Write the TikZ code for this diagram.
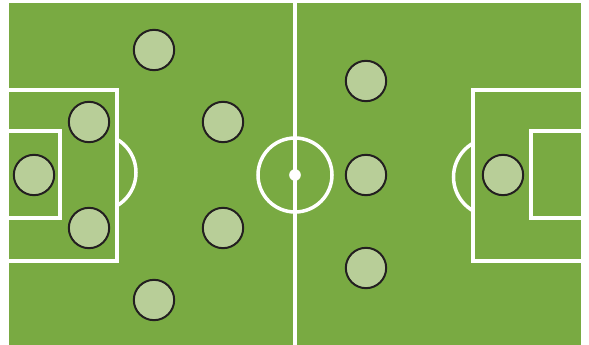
\documentclass[tikz,border=0pt]{standalone}
\usepackage{tikz}
\usetikzlibrary{positioning}
\definecolor{cPitch} {RGB}{121,170,66}
\definecolor{cPlyr}  {RGB}{184,206,152}
\definecolor{cEdge}  {RGB}{35,31,32}
\tikzset{
  pitch/.style={fill=cPitch,draw=none},
  lines/.style={draw=white,line width=3pt}, % pitch markings
  plyr/.style={circle,draw=cEdge,fill=cPlyr,line width=1.7pt,
               minimum size=1.21cm,inner sep=0pt}, % player disc
  spot/.style={circle,fill=white,minimum size=0.35cm,inner sep=0pt},
}
\begin{document}
\begin{tikzpicture}[x=0.03cm,y=-0.03cm]
  \useasboundingbox (0,0) rectangle (589,345);
  \fill[pitch] (9,3) rectangle (581,345);
  % markings
  \draw[lines] (295,3) -- (295,345);
  \draw[lines] (295,175) circle (37);
  \node[spot] (kick) at (295,175) {};
  \draw[lines] (9,90) -| (117,261) -- (9,261);
  \draw[lines] (9,131) -| (60,218) -- (9,218);
  \draw[lines] (581,90) -| (473,261) -- (581,261);
  \draw[lines] (581,131) -| (531,218) -- (581,218);
  \begin{scope}
    \clip (117,3) rectangle (295,345);
    \draw[lines] (97.5,172.5) circle (38.5);
  \end{scope}
  \begin{scope}
    \clip (295,3) rectangle (473,345);
    \draw[lines] (492.5,177) circle (39);
  \end{scope}
  % left side
  \node[plyr] (gkL) at (34,175)  {};
  \node[plyr] (dL1) at (89,122)  {};
  \node[plyr] (dL2) at (89,228)  {};
  \node[plyr] (wL1) at (154,50)  {};
  \node[plyr] (wL2) at (154,300) {};
  \node[plyr] (mL1) at (223,122) {};
  \node[plyr] (mL2) at (223,228) {};
  % right side
  \node[plyr] (fR1) at (366,81)  {};
  \node[plyr] (fR2) at (366,175) {};
  \node[plyr] (fR3) at (366,268) {};
  \node[plyr] (gkR) at (503,175) {};
\end{tikzpicture}
\end{document}
